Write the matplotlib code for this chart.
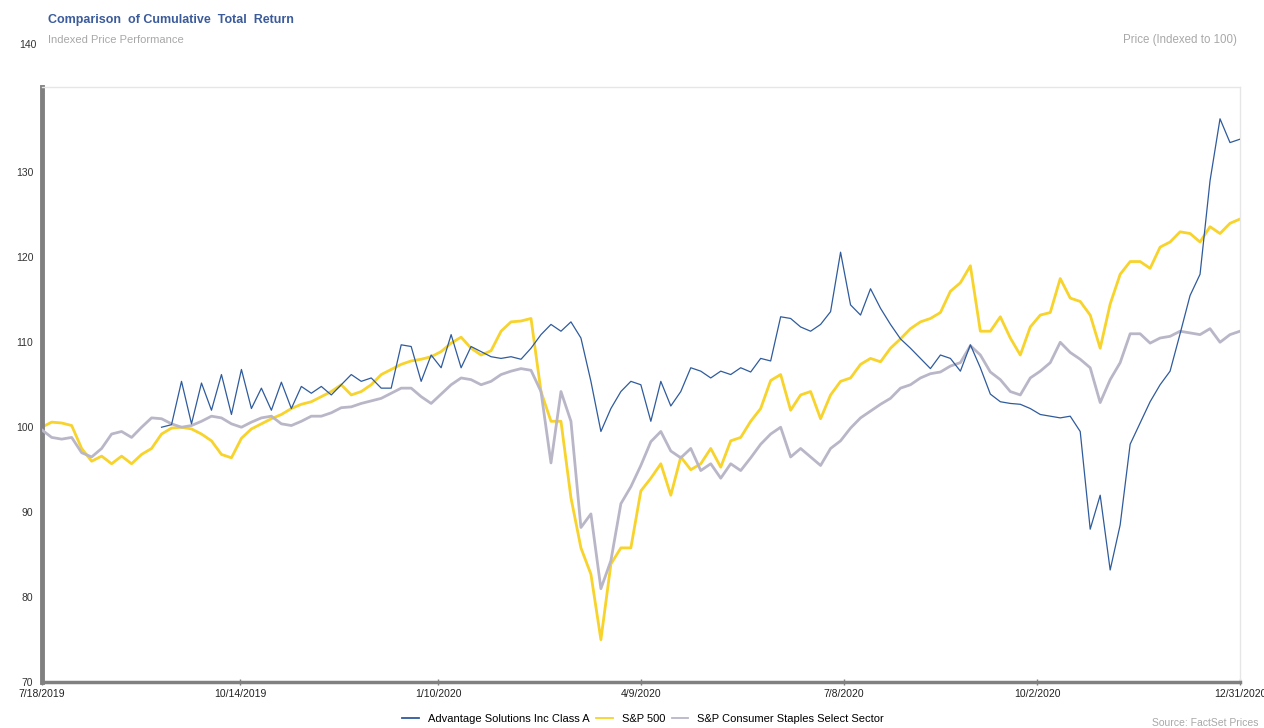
import numpy as np
import pandas as pd
import matplotlib
matplotlib.use('Agg')
import matplotlib.pyplot as plt
from matplotlib.lines import Line2D

plt.rcParams['font.family'] = ['Liberation Sans', 'DejaVu Sans']

# indexed prices (start = 100), sampled roughly every 4.4 calendar days
start_date = '2019-07-18'
end_date = '2020-12-31'

sp500 = [100, 100.6, 100.5, 100.2, 97.5, 96, 96.6, 95.7, 96.6, 95.7,
         96.8, 97.5, 99.2, 99.9, 100, 99.8, 99.2, 98.4, 96.8, 96.4,
         98.7, 99.8, 100.4, 101, 101.5, 102.2, 102.7, 103, 103.6, 104.2,
         105, 103.8, 104.2, 105, 106.2, 106.8, 107.4, 107.8, 108, 108.3,
         108.9, 109.9, 110.6, 109.3, 108.5, 109, 111.3, 112.4, 112.5, 112.8,
         104.2, 100.7, 100.7, 91.7, 85.8, 82.7, 75, 83.9, 85.8, 85.8,
         92.5, 94, 95.7, 92, 96.5, 95, 95.7, 97.5, 95.3, 98.4,
         98.8, 100.7, 102.2, 105.5, 106.2, 102, 103.8, 104.2, 101, 103.8,
         105.4, 105.8, 107.4, 108.1, 107.7, 109.3, 110.4, 111.6, 112.4, 112.8,
         113.5, 116, 117, 119, 111.3, 111.3, 113, 110.5, 108.5, 111.8,
         113.2, 113.5, 117.5, 115.2, 114.8, 113.2, 109.3, 114.5, 118, 119.5,
         119.5, 118.7, 121.2, 121.8, 123, 122.8, 121.8, 123.6, 122.8, 124,
         124.5]

staples = [99.7, 98.8, 98.6, 98.8, 97, 96.5, 97.5, 99.2, 99.5, 98.8,
           100, 101.1, 101, 100.4, 100, 100.2, 100.7, 101.3, 101.1, 100.4,
           100, 100.6, 101.1, 101.3, 100.4, 100.2, 100.7, 101.3, 101.3, 101.7,
           102.3, 102.4, 102.8, 103.1, 103.4, 104, 104.6, 104.6, 103.6, 102.8,
           103.9, 105, 105.8, 105.6, 105, 105.4, 106.2, 106.6, 106.9, 106.7,
           104.2, 95.8, 104.2, 100.7, 88.2, 89.8, 81, 84.3, 91, 93,
           95.5, 98.3, 99.5, 97.2, 96.4, 97.5, 94.9, 95.7, 94, 95.7,
           94.9, 96.4, 98, 99.2, 100, 96.5, 97.5, 96.5, 95.5, 97.5,
           98.4, 99.9, 101.1, 101.9, 102.7, 103.4, 104.6, 105, 105.8, 106.3,
           106.5, 107.2, 107.6, 109.6, 108.5, 106.5, 105.6, 104.2, 103.8, 105.8,
           106.6, 107.6, 110, 108.8, 108, 107, 102.9, 105.6, 107.6, 111,
           111, 109.9, 110.5, 110.7, 111.3, 111.1, 110.9, 111.6, 110, 110.9,
           111.3]

adv = [np.nan] * 12 + [
       100, 100.3, 105.4, 100.4, 105.2, 102, 106.2, 101.5,
       106.8, 102.2, 104.6, 102, 105.3, 102.2, 104.8, 104, 104.8, 103.8,
       105, 106.2, 105.4, 105.8, 104.6, 104.6, 109.7, 109.5, 105.4, 108.5,
       107, 110.9, 107, 109.5, 108.9, 108.3, 108.1, 108.3, 108, 109.3,
       110.9, 112.1, 111.3, 112.4, 110.5, 105.4, 99.5, 102.2, 104.2, 105.4,
       105, 100.7, 105.4, 102.5, 104.2, 107, 106.6, 105.8, 106.6, 106.2,
       107, 106.5, 108.1, 107.8, 113, 112.8, 111.8, 111.3, 112.1, 113.6,
       120.6, 114.4, 113.2, 116.3, 114, 112.1, 110.4, 109.3, 108.1, 106.9,
       108.5, 108.1, 106.6, 109.7, 107, 103.9, 103, 102.8, 102.7, 102.2,
       101.5, 101.3, 101.1, 101.3, 99.5, 88, 92, 83.2, 88.5, 98,
       100.5, 103, 105, 106.6, 111, 115.5, 118, 129, 136.3, 133.5,
       133.9]

tick_dates = ['2019-07-18', '2019-10-14', '2020-01-10', '2020-04-09',
              '2020-07-08', '2020-10-02', '2020-12-31']
tick_labels = ['7/18/2019', '10/14/2019', '1/10/2020', '4/9/2020',
               '7/8/2020', '10/2/2020', '12/31/2020']

names = ['Advantage Solutions Inc Class A', 'S&P 500',
         'S&P Consumer Staples Select Sector']
colors = ['#2f5b9c', '#f7d32b', '#b9b6c8']

dates = pd.date_range(start_date, end_date, periods=len(sp500))

fig = plt.figure(figsize=(12.64, 7.28), dpi=100)
ax = fig.add_axes([0.033, 0.063, 0.948, 0.817])

ax.plot(dates, sp500, color=colors[1], lw=2.0, zorder=2)
ax.plot(dates, staples, color=colors[2], lw=2.0, zorder=3)
ax.plot(dates, adv, color=colors[0], lw=0.9, zorder=4)

ax.set_xlim(pd.Timestamp(start_date), pd.Timestamp(end_date))
ax.set_ylim(70, 140)
ax.set_yticks([70, 80, 90, 100, 110, 120, 130])
ax.set_yticklabels(['70', '80', '90', '100', '110', '120', '130'])
ax.set_xticks([pd.Timestamp(d) for d in tick_dates])
ax.set_xticklabels(tick_labels)

ax.tick_params(axis='y', length=0, pad=6, labelsize=7.5, labelcolor='#333333')
ax.tick_params(axis='x', length=4, width=1, direction='inout', color='#808080',
               pad=3, labelsize=7.5, labelcolor='#222222')

for s in ['top', 'right']:
    ax.spines[s].set_color('#e6e6e6')
    ax.spines[s].set_linewidth(1)
ax.spines['left'].set_color('#808080')
ax.spines['left'].set_linewidth(3.5)
ax.spines['bottom'].set_color('#808080')
ax.spines['bottom'].set_linewidth(2.5)

fig.text(48 / 1264, 1 - 20 / 728, 'Comparison  of Cumulative  Total  Return',
         fontsize=9, fontweight='bold', color='#3b5b9b', va='center')
fig.text(48 / 1264, 1 - 40 / 728, 'Indexed Price Performance',
         fontsize=8, color='#a8a8a8', va='center')
fig.text(1237 / 1264, 1 - 40 / 728, 'Price (Indexed to 100)',
         fontsize=8.3, color='#a8a8a8', va='center', ha='right')
fig.text(37 / 1264, 1 - 45 / 728, '140', fontsize=7.5, color='#333333',
         va='center', ha='right')
fig.text(1152 / 1264, 1 - 723 / 728, 'Source: FactSet Prices',
         fontsize=7.5, color='#a8a8a8', va='center')

handles = [Line2D([], [], color=c, lw=1.3) for c in colors]
fig.legend(handles, names,
           loc='center', bbox_to_anchor=(643 / 1264, 1 - 719 / 728), ncol=3,
           frameon=False, fontsize=8, handlelength=1.5, columnspacing=0.6,
           handletextpad=0.8)

fig.savefig('out.png', dpi=100)
